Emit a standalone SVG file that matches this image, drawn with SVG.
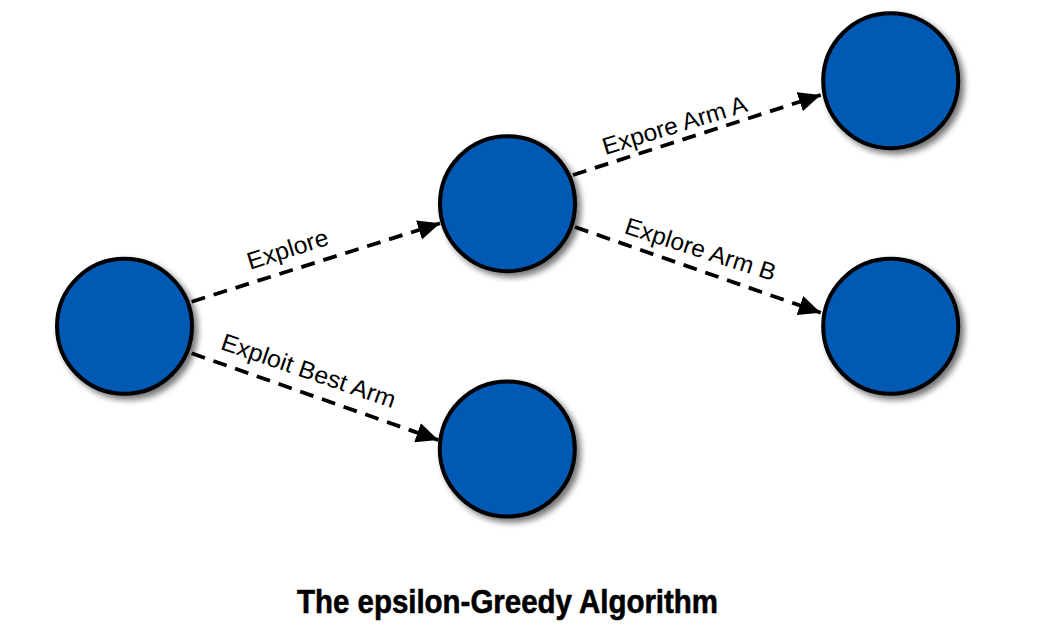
<svg xmlns="http://www.w3.org/2000/svg" width="1050" height="634" viewBox="0 0 1050 634">
  <style>
    .node { fill: #005AB4; stroke: #000; stroke-width: 4; filter: url(#shadow); }
    .edge { fill: none; stroke: #000; stroke-width: 3.8; stroke-dasharray: 14 9; marker-end: url(#arrow); }
    .lbl { font-family: "Liberation Sans Narrow", "Liberation Sans", Arial, sans-serif; font-size: 24px; fill: #000; text-anchor: middle; }
    .title { font-family: "Liberation Sans Narrow", "Liberation Sans", Arial, sans-serif; font-size: 33px; font-weight: bold; fill: #000; stroke: #000; stroke-width: 0.6; text-anchor: middle; }
  </style>
  <defs>
    <filter id="shadow" x="-20%" y="-20%" width="150%" height="150%">
      <feGaussianBlur in="SourceAlpha" stdDeviation="3"/>
      <feOffset dx="4" dy="4" result="b"/>
      <feComponentTransfer><feFuncA type="linear" slope="0.55"/></feComponentTransfer>
      <feMerge><feMergeNode/><feMergeNode in="SourceGraphic"/></feMerge>
    </filter>
    <marker id="arrow" markerUnits="userSpaceOnUse" markerWidth="24" markerHeight="22" refX="22" refY="10" orient="auto">
      <path d="M0,0 L22,10 L0,20 Z" fill="#000"/>
    </marker>
  </defs>
  <rect width="1050" height="634" fill="#fff"/>

  <g id="node-start"><circle class="node" cx="124.5" cy="326.3" r="67.5"/></g>
  <g id="node-explore"><circle class="node" cx="507.5" cy="203.7" r="67.5"/></g>
  <g id="node-exploit"><circle class="node" cx="507.3" cy="449" r="67.5"/></g>
  <g id="node-arm-a"><circle class="node" cx="890.7" cy="80.7" r="67.5"/></g>
  <g id="node-arm-b"><circle class="node" cx="890.7" cy="326.3" r="67.5"/></g>

  <g id="connectors">
    <line class="edge" x1="191.7" y1="301.7" x2="440" y2="223.3"/>
    <line class="edge" x1="191.7" y1="353.3" x2="438.3" y2="440"/>
    <line class="edge" x1="573" y1="175" x2="820.7" y2="95"/>
    <line class="edge" x1="575" y1="227" x2="820.7" y2="312.7"/>
  </g>

  <g id="labels">
    <text class="lbl" transform="translate(290,257) rotate(-17.5)" textLength="84" lengthAdjust="spacingAndGlyphs">Explore</text>
    <text class="lbl" transform="translate(306,378.5) rotate(19)" textLength="183" lengthAdjust="spacingAndGlyphs">Exploit Best Arm</text>
    <text class="lbl" transform="translate(677,133) rotate(-17)" textLength="150" lengthAdjust="spacingAndGlyphs">Expore Arm A</text>
    <text class="lbl" transform="translate(698,257) rotate(17.8)" textLength="157" lengthAdjust="spacingAndGlyphs">Explore Arm B</text>
  </g>

  <text class="title" x="507.5" y="613" textLength="421" lengthAdjust="spacingAndGlyphs">The epsilon-Greedy Algorithm</text>
</svg>
